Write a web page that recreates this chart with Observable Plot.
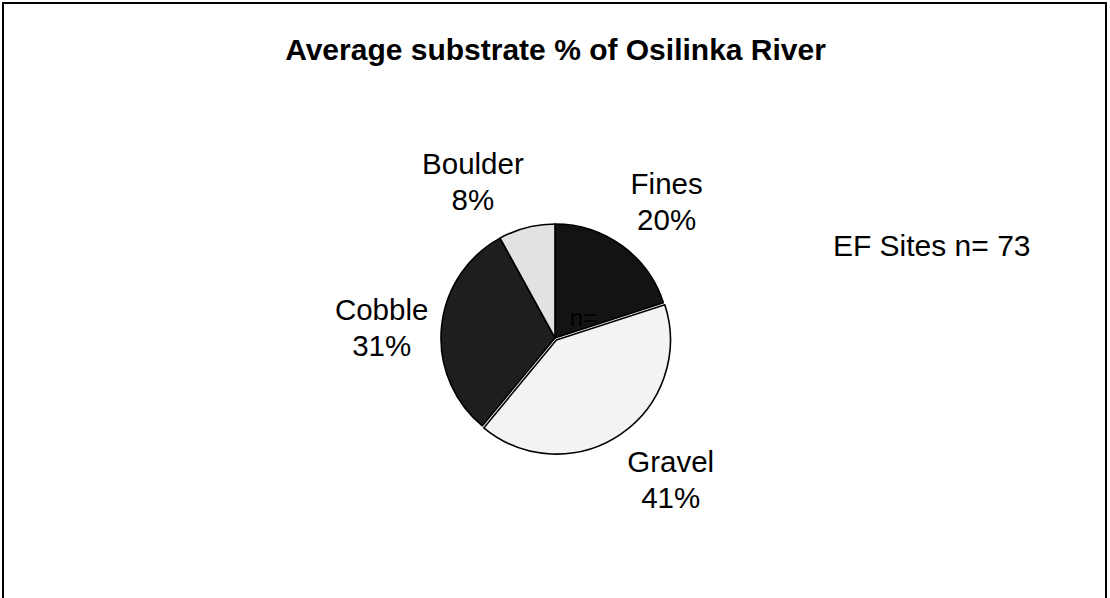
<!DOCTYPE html>
<html><head><meta charset="utf-8">
<script src="https://cdn.jsdelivr.net/npm/d3@7"></script>
<script src="https://cdn.jsdelivr.net/npm/@observablehq/plot@0.6"></script>
<style>
html,body{margin:0;padding:0;background:#fff;}
#wrap{position:relative;width:1110px;height:598px;overflow:hidden;background:#fff;}
#wrap svg{display:block;}
#border{position:absolute;left:2px;top:2px;width:1101px;height:800px;border:2px solid #000;pointer-events:none;}
</style></head><body>
<div id="wrap"><div id="border"></div></div>
<script>
// ---- data ----
const title = "Average substrate % of Osilinka River";
const categories = ["Fines", "Gravel", "Cobble", "Boulder"];
const percents = [20, 41, 31, 8];
const sliceColors = ["#131313", "#f3f3f3", "#1e1e1e", "#e2e2e2"];
const note = "EF Sites n= 73";
const centerNote = "n=";
const explodedCategory = "Gravel";

// ---- layout / style ----
const W = 1110, H = 598;
const R = 114;             // pie radius (px)
const FONT = "'Liberation Sans', Arial, Helvetica, sans-serif";
const labelSize = 29.5;
const lineH = 36;

const pie = d3.pie().sort(null).value(d => d.value);
const slices = pie(categories.map((c, i) => ({category: c, value: percents[i], color: sliceColors[i]})));

const ctx = document.createElement("canvas").getContext("2d");
ctx.font = `${labelSize}px ${FONT}`;
const measure = s => ctx.measureText(s).width;

// label positions derived from slice mid-angles (Excel-like outside-end labels)
const labels = slices.map(s => {
  const a = (s.startAngle + s.endAngle) / 2;
  const sin = Math.sin(a), cos = Math.cos(a);
  const lr = R * 1.12;
  const px = lr * sin, py = lr * cos; // y up
  const lines = [s.data.category, `${s.data.value}%`];
  const w = Math.max(...lines.map(measure));
  const h = (lines.length - 1) * lineH + labelSize * 1.117;
  const x = px + (sin > 0.2 ? w / 2 : sin < -0.2 ? -w / 2 : 0);
  const y = py + (cos > 0.3 ? h / 2 : cos < -0.3 ? -h / 2 : 0);
  return {x, y, text: lines.join("\n")};
});

function pieMark(index, scales) {
  const cx = scales.x(0), cy = scales.y(0);
  const k = scales.x(1) - scales.x(0);
  const arc = d3.arc().innerRadius(0).outerRadius(R * k);
  const g = d3.create("svg:g").attr("transform", `translate(${cx},${cy})`);
  g.selectAll("path").data(slices).join("path")
    .attr("d", arc)
    .attr("transform", d => {
      if (d.data.category !== explodedCategory) return null;
      const a = (d.startAngle + d.endAngle) / 2;
      return `translate(${2.5 * Math.sin(a)},${-2.5 * Math.cos(a)})`;
    })
    .attr("fill", d => d.data.color)
    .attr("stroke", "#000")
    .attr("stroke-width", 1.6)
    .attr("stroke-linejoin", "round");
  return g.node();
}

const chart = Plot.plot({
  width: W,
  height: H,
  margin: 0,
  style: {fontFamily: FONT, background: "transparent", color: "#000"},
  x: {domain: [-W / 2, W / 2], axis: null},
  y: {domain: [-(H - 338), 338], axis: null},
  marks: [
    pieMark,
    Plot.text([title], {text: d => d, frameAnchor: "top", dy: 38, fontSize: 30, fontWeight: "bold", fill: "#000"}),
    Plot.text(labels, {x: "x", y: "y", text: "text", fontSize: labelSize, lineHeight: lineH / labelSize, textAnchor: "middle", lineAnchor: "middle", fill: "#000"}),
    Plot.text([note], {text: d => d, frameAnchor: "top-right", dx: -80, dy: 234, textAnchor: "end", fontSize: 30, fill: "#000"}),
    Plot.text([{x: 0, y: 0, t: centerNote}], {x: "x", y: "y", text: "t", dx: 28, dy: -20, fontSize: 24, fill: "#000"})
  ]
});
document.getElementById("wrap").insertBefore(chart, document.getElementById("border"));
</script>
</body></html>
